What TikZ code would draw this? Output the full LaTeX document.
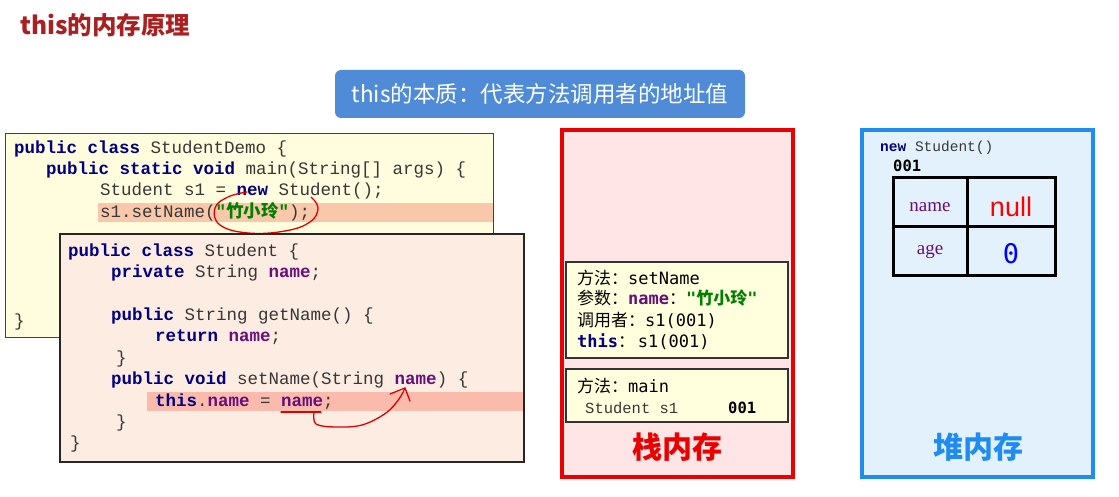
\documentclass[tikz,border=0pt]{standalone}
\usepackage{fontspec}
\setmainfont{Noto Sans CJK SC}
\setmonofont{Liberation Mono}
\newfontfamily\cjk{Noto Sans CJK SC}
\newfontfamily\smono{DejaVu Sans Mono}
\newfontfamily\tnr{Liberation Serif}
\newfontfamily\asans{Liberation Sans}
\usepackage{xcolor}
\usetikzlibrary{arrows.meta,calc,positioning}

\definecolor{titlered}{RGB}{170,32,32}
\definecolor{tipblue}{RGB}{79,139,214}
\definecolor{codeyellow}{RGB}{255,253,222}
\definecolor{codepink}{RGB}{253,236,226}
\definecolor{hiorange}{RGB}{249,200,170}
\definecolor{hipink}{RGB}{250,186,172}
\definecolor{kwblue}{RGB}{0,0,128}
\definecolor{fieldpurple}{RGB}{102,14,122}
\definecolor{strgreen}{RGB}{0,128,0}
\definecolor{codegray}{RGB}{55,55,55}
\definecolor{stackred}{RGB}{235,0,0}
\definecolor{stackfill}{RGB}{255,229,229}
\definecolor{heapblue}{RGB}{30,140,240}
\definecolor{heapfill}{RGB}{226,241,252}
\definecolor{framefill}{RGB}{255,255,222}
\definecolor{inkred}{RGB}{225,0,0}

\newcommand\kw[1]{\textbf{\color{kwblue}#1}}
\newcommand\fld[1]{\textbf{\color{fieldpurple}#1}}
\newcommand\strg[1]{\textbf{\color{strgreen}#1}}

\tikzset{
  codeline/.style={anchor=base west,inner sep=0pt,text=codegray,
    font=\ttfamily\fontsize{17.5}{21}\selectfont},
  frametext/.style={anchor=base west,inner sep=0pt,
    font=\cjk\fontsize{17}{20}\selectfont},
  framebox/.style={draw=black!80,line width=1.2pt,fill=framefill},
  memlabel/.style={font=\cjk\bfseries\fontsize{30}{34}\selectfont},
  cell/.style={inner sep=0pt},
  ink/.style={inkred,line width=1.3pt,line cap=round,line join=round}
}

\begin{document}
\begin{tikzpicture}[x=1pt,y=-1pt,>=Stealth]
\useasboundingbox[fill=white] (0,0) rectangle (1119,497);

% title and tip
\node[anchor=base west,inner sep=0pt,text=titlered,font=\cjk\bfseries\fontsize{24.5}{28}\selectfont] (title) at (20,35) {this的内存原理};
\node[fill=tipblue,rounded corners=6pt,minimum width=410pt,minimum height=48pt,text=white,font=\cjk\fontsize{22.5}{25}\selectfont] (tip) at (540,94) {this的本质：代表方法调用者的地址值};

% StudentDemo code
\draw[draw=black!75,line width=0.9pt,fill=codeyellow] (5,133) rectangle (493,337);
\fill[hiorange] (98,203) rectangle (493,222);
\node[codeline] (d1) at (14,154) {\kw{public class} StudentDemo \{};
\node[codeline] (d2) at (46,175) {\kw{public static void} main(String[] args) \{};
\node[codeline] (d3) at (100,196) {Student s1 = \kw{new} Student();};
\node[codeline] (d4) at (100,218) {s1.setName(\strg{"{\cjk\bfseries 竹小玲}"});};
\node[codeline] (d5) at (14,326) {\}};
\draw[ink] plot[smooth,tension=0.7] coordinates {(247,192) (228,197) (215,208) (220,225) (248,233) (285,231) (310,222) (318,208) (311,197)};

% Student code
\draw[draw=black!85,line width=1.4pt,fill=codepink] (60,234) rectangle (524,462);
\fill[hipink] (147,392) rectangle (523,411);
\node[codeline] (s1) at (68,256) {\kw{public class} Student \{};
\node[codeline] (s2) at (111,277) {\kw{private} String \fld{name};};
\node[codeline] (s3) at (111,320) {\kw{public} String getName() \{};
\node[codeline] (s4) at (155,341) {\kw{return} \fld{name};};
\node[codeline] (s5) at (116,363) {\}};
\node[codeline] (s6) at (111,384) {\kw{public void} setName(String \fld{name}) \{};
\node[codeline] (s7) at (155,406) {\kw{this}.\fld{name} = \fld{name};};
\node[codeline] (s8) at (116,427) {\}};
\node[codeline] (s9) at (70,448) {\}};

% hand-drawn arrow: name -> parameter
\coordinate (argname) at (281,412);
\coordinate (argend) at (321,412);
\coordinate (param) at (405,388);
\draw[ink] (argname) -- (argend);
\draw[ink] plot[smooth,tension=0.6] coordinates {(314,413) (316,424) (335,427) (362,425) (386,413) (399,399) (param)};
\draw[ink] ($(param)+(-15,6)$) -- (param) -- ($(param)+(5,13)$);

% stack
\draw[draw=stackred,line width=3.5pt,fill=stackfill] (562,130) rectangle (793,477);
\draw[framebox] (566,262) rectangle (788,358);
\node[frametext] (p1) at (577,284) {方法：{\smono setName}};
\node[frametext] (p2) at (577,304) {参数：{\smono\bfseries\color{fieldpurple}name}：{\smono\bfseries\color{strgreen}"}{\bfseries\color{strgreen}竹小玲}{\smono\bfseries\color{strgreen}"}};
\node[frametext] (p3) at (577,326) {调用者：{\smono s1(001)}};
\node[frametext] (p4) at (577,347) {{\smono\bfseries\color{kwblue}this}：\,{\smono s1(001)}};
\draw[framebox] (566,369) rectangle (788,422);
\node[frametext] (m1) at (577,392) {方法：{\smono main}};
\node[anchor=base west,inner sep=0pt,font=\ttfamily\fontsize{15.5}{18}\selectfont,text=codegray] (m2) at (585,413) {Student s1};
\node[anchor=base west,inner sep=0pt,font=\smono\bfseries\fontsize{15.5}{18}\selectfont] (m3) at (728,413) {001};
\node[memlabel,text=stackred] (stack) at (677,447) {栈内存};

% heap
\draw[draw=heapblue,line width=3.5pt,fill=heapfill] (862,130) rectangle (1093,477);
\node[anchor=base west,inner sep=0pt,font=\ttfamily\fontsize{14.5}{17}\selectfont,text=codegray] (newobj) at (880,152) {\kw{new} Student()};
\node[anchor=base west,inner sep=0pt,font=\smono\bfseries\fontsize{15.5}{18}\selectfont] (addr) at (893,172) {001};
\draw[line width=3pt] (893,178) rectangle (1055,275);
\draw[line width=3pt] (967,178) -- (967,275);
\draw[line width=3pt] (893,227) -- (1055,227);
\node[cell,font=\tnr\fontsize{19}{22}\selectfont,text=fieldpurple] (cname) at (930,207) {name};
\node[cell,font=\asans\fontsize{27}{30}\selectfont,text=red] (cnull) at (1011,207) {null};
\node[cell,font=\tnr\fontsize{19}{22}\selectfont,text=fieldpurple] (cage) at (930,252) {age};
\node[cell,font=\smono\fontsize{27}{30}\selectfont,text=blue] (czero) at (1011,254) {0};
\node[memlabel,text=heapblue] (heap) at (978,447) {堆内存};
\end{tikzpicture}
\end{document}
